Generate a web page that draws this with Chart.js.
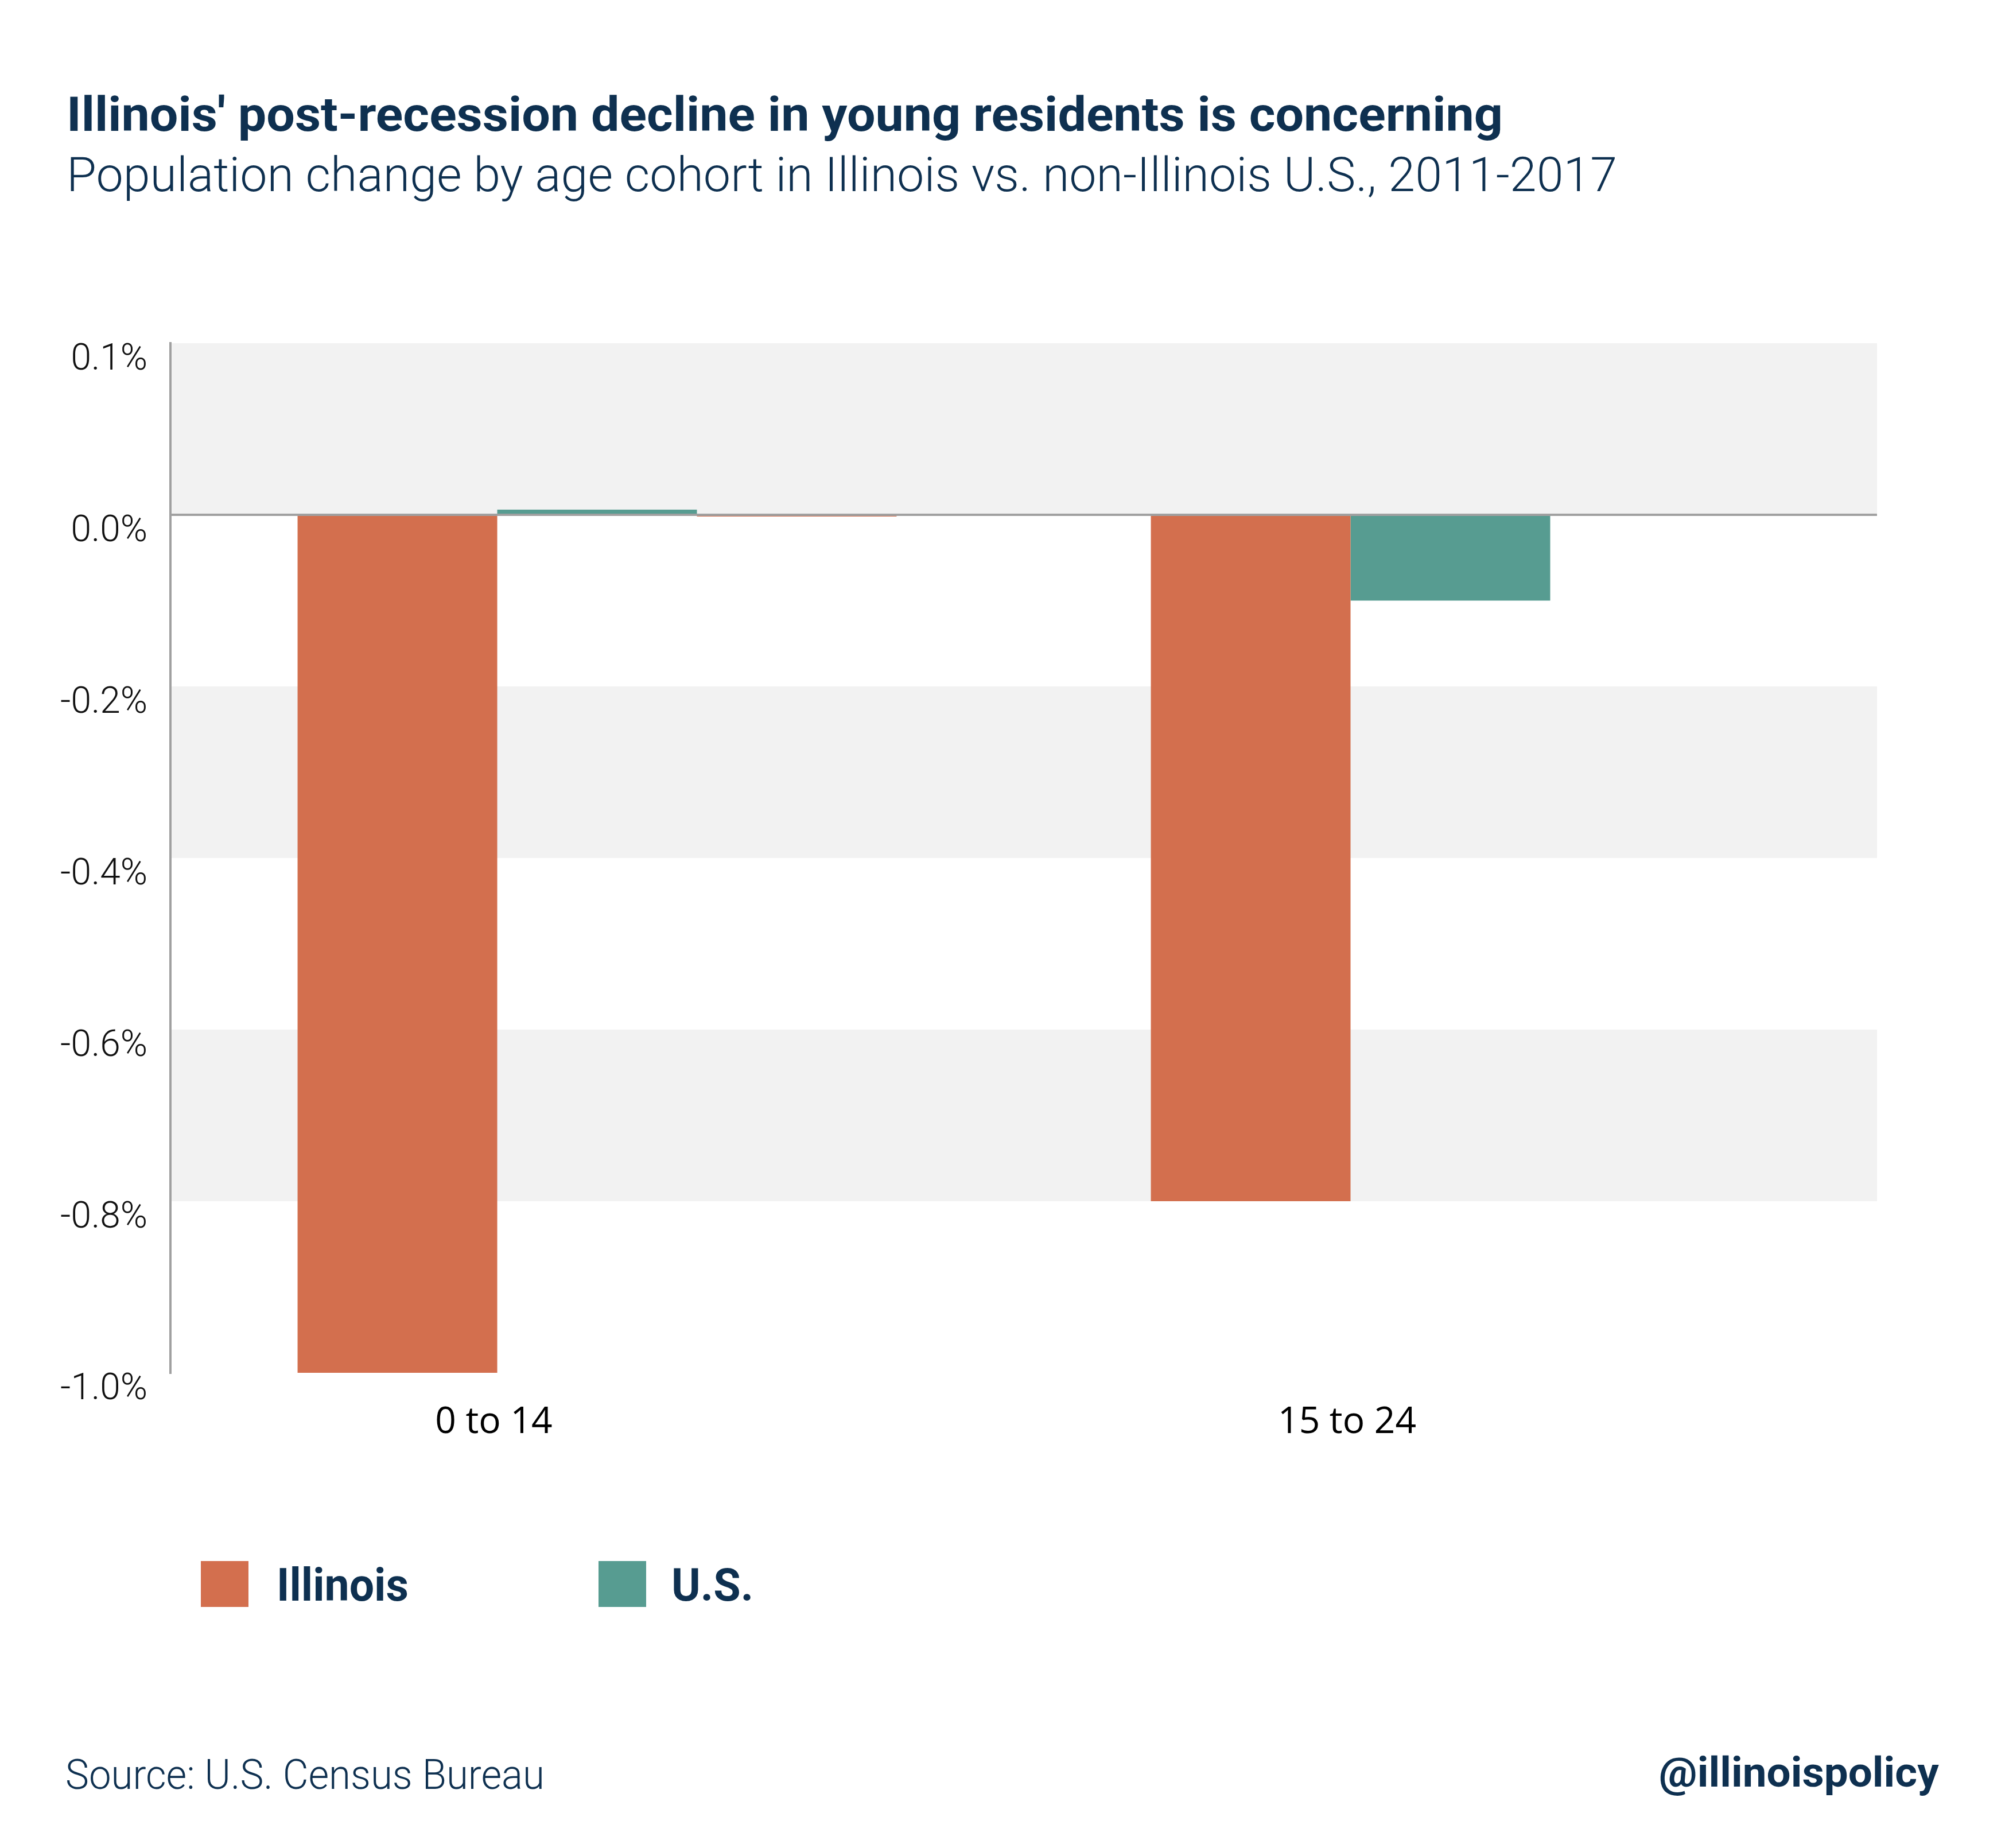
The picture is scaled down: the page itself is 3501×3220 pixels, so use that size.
<!DOCTYPE html>
<html>
<head>
<meta charset="utf-8">
<script src="https://cdn.jsdelivr.net/npm/chart.js@4.4.1/dist/chart.umd.min.js"></script>
<style>
  html, body { margin: 0; padding: 0; background: #ffffff; }
  #wrap { position: relative; width: 3501px; height: 3220px; background: #fff; overflow: hidden; }
  #chart { position: absolute; left: 0; top: 0; }
  .txt { position: absolute; white-space: nowrap; line-height: 1; color: #0E3050; font-family: Roboto, "Liberation Sans", sans-serif; }
  .lgbox { position: absolute; width: 83px; height: 80px; }
</style>
</head>
<body>
<div id="wrap">
  <canvas id="chart" width="3501" height="3220"></canvas>
  <div class="txt fit" id="title" data-x="116" data-base="228" data-w="2503" style="font-weight:700;font-size:84px;">Illinois' post-recession decline in young residents is concerning</div>
  <div class="txt fit" id="subtitle" data-x="116" data-base="333" data-w="2702" style="font-weight:300;font-size:84px;">Population change by age cohort in Illinois vs. non-Illinois U.S., 2011-2017</div>
  <div id="legend"></div>
  <div class="txt fit" id="source" data-x="114" data-base="3117" data-w="835" style="font-weight:300;font-size:72px;">Source: U.S. Census Bureau</div>
  <div class="txt fit" id="handle" data-right="3379" data-base="3113" data-w="488" style="font-weight:700;font-size:72px;">@illinoispolicy</div>
</div>
<script>
// ---- data ----
const categories = ["0 to 14", "15 to 24"];
const seriesNames = ["Illinois", "U.S."];
const illinoisValues = [-1.0, -0.8];
const usValues = [0.006, -0.1];
const extraValues = [-0.002, 0];
const tickValues = [0.2, 0.0, -0.2, -0.4, -0.6, -0.8, -1.0];
const tickLabels = ["0.1%", "0.0%", "-0.2%", "-0.4%", "-0.6%", "-0.8%", "-1.0%"];

// ---- styles ----
const ORANGE = "#D36F4E";
const TEAL = "#579C91";
const BAND = "#F2F2F2";
const AXIS = "#A0A0A0";

const bandsPlugin = {
  id: "bands",
  beforeDraw(chart) {
    const { ctx, chartArea } = chart;
    const y = chart.scales.y;
    const vals = tickValues.slice().sort((a, b) => b - a);
    ctx.save();
    ctx.fillStyle = BAND;
    for (let i = 0; i + 1 < vals.length; i += 2) {
      const y1 = y.getPixelForValue(vals[i]);
      const y2 = y.getPixelForValue(vals[i + 1]);
      ctx.fillRect(chartArea.left, y1, chartArea.right - chartArea.left, y2 - y1);
    }
    ctx.restore();
  }
};

const chart = new Chart(document.getElementById("chart"), {
  type: "bar",
  data: {
    labels: categories,
    datasets: [
      { label: seriesNames[0], data: illinoisValues, backgroundColor: ORANGE },
      { label: seriesNames[1], data: usValues, backgroundColor: TEAL },
      { label: "", data: extraValues, backgroundColor: ORANGE }
    ]
  },
  options: {
    responsive: false,
    animation: false,
    devicePixelRatio: 1,
    layout: { padding: { left: 0, right: 230, top: 598, bottom: 678 } },
    plugins: { legend: { display: false }, tooltip: { enabled: false }, title: { display: false } },
    datasets: { bar: { barPercentage: 1, categoryPercentage: 0.702, borderWidth: 0 } },
    scales: {
      x: {
        grid: { display: false, drawTicks: false },
        border: { display: false },
        ticks: {
          color: "#000",
          font: { family: "'Open Sans'", size: 64, weight: 400 },
          padding: 48,
          labelOffset: -180,
          maxRotation: 0
        },
        afterFit(scale) { scale.height = 150; }
      },
      y: {
        min: -1.0,
        max: 0.2,
        afterBuildTicks(scale) { scale.ticks = tickValues.map(v => ({ value: v })); },
        grid: {
          drawTicks: false,
          color: (c) => (c.tick && Math.abs(c.tick.value) < 1e-9 ? AXIS : "rgba(0,0,0,0)"),
          lineWidth: 4
        },
        border: { display: true, color: AXIS, width: 4 },
        ticks: {
          color: "#111",
          font: { family: "Roboto", size: 64, weight: 300 },
          padding: 40,
          labelOffset: 30,
          callback: function (value) {
            const i = tickValues.findIndex(v => Math.abs(v - value) < 1e-9);
            return i >= 0 ? tickLabels[i] : "";
          }
        },
        afterFit(scale) { scale.width = 297; }
      }
    }
  },
  plugins: [bandsPlugin]
});

// ---- legend (built from dataset names/colours) ----
const legendEl = document.getElementById("legend");
const legendBoxX = [350, 1043];
const legendTextX = [482, 1170];
const legendTextW = [230, 143];
chart.data.datasets.slice(0, 2).forEach((ds, i) => {
  const b = document.createElement("div");
  b.className = "lgbox";
  b.style.left = legendBoxX[i] + "px";
  b.style.top = "2720px";
  b.style.background = ds.backgroundColor;
  legendEl.appendChild(b);
  const t = document.createElement("div");
  t.className = "txt fit";
  t.textContent = ds.label;
  t.dataset.x = legendTextX[i];
  t.dataset.base = 2789;
  t.dataset.w = legendTextW[i];
  t.style.fontWeight = "700";
  t.style.fontSize = "80px";
  legendEl.appendChild(t);
});

// ---- place texts by baseline and fit width ----
document.querySelectorAll(".fit").forEach(el => {
  const fs = parseFloat(el.style.fontSize);
  // baseline measurement
  const probe = document.createElement("span");
  probe.style.display = "inline-block";
  probe.style.width = "1px";
  probe.style.height = "0px";
  probe.style.verticalAlign = "baseline";
  el.appendChild(probe);
  const baseOff = probe.offsetTop;
  el.removeChild(probe);
  el.style.top = (parseFloat(el.dataset.base) - baseOff) + "px";
  const w = el.getBoundingClientRect().width;
  const target = parseFloat(el.dataset.w);
  const s = target / w;
  if (el.dataset.right) {
    el.style.left = (parseFloat(el.dataset.right) - w) + "px";
    el.style.transformOrigin = "right center";
  } else {
    el.style.left = el.dataset.x + "px";
    el.style.transformOrigin = "left center";
  }
  el.style.transform = "scaleX(" + s.toFixed(4) + ")";
});
</script>
</body>
</html>
